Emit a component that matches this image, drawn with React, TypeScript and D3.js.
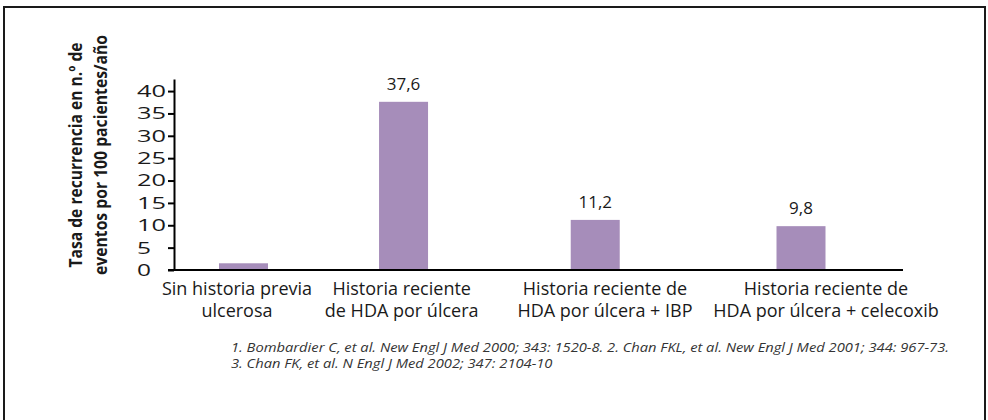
import React, { useRef, useEffect } from "react";
import * as d3 from "d3";

// Data
const categories = [0, 1, 2, 3];
const categoryLines: string[][] = [
  ["Sin historia previa", "ulcerosa"],
  ["Historia reciente", "de HDA por úlcera"],
  ["Historia reciente de", "HDA por úlcera + IBP"],
  ["Historia reciente de", "HDA por úlcera + celecoxib"],
];
const values = [1.5, 37.6, 11.2, 9.8];
const valueLabels = ["", "37,6", "11,2", "9,8"];
const yTicks = [0, 5, 10, 15, 20, 25, 30, 35, 40];
const yTitleLines = ["Tasa de recurrencia en n.º de", "eventos por 100 pacientes/año"];
const footnotes = [
  "1. Bombardier C, et al. New Engl J Med 2000; 343: 1520-8. 2. Chan FKL, et al. New Engl J Med 2001; 344: 967-73.",
  "3. Chan FK, et al. N Engl J Med 2002; 347: 2104-10",
];

const FONT = "'Open Sans', Lato, sans-serif";
const BAR_W = 49;

const App: React.FC = () => {
  const ref = useRef<SVGSVGElement | null>(null);

  useEffect(() => {
    document.body.style.margin = "0";
    const svg = d3.select(ref.current);
    svg.selectAll("*").remove();

    const W = 988;
    const H = 420;
    svg.attr("width", W).attr("height", H).attr("viewBox", `0 0 ${W} ${H}`);

    // frame
    svg
      .append("rect")
      .attr("x", 4)
      .attr("y", 7)
      .attr("width", 981)
      .attr("height", 430)
      .attr("fill", "#fff")
      .attr("stroke", "#1a1a1a")
      .attr("stroke-width", 2);

    // the original spaces its categories unevenly (gaps widen to the right),
    // so category index -> x goes through a pow scale instead of a band scale
    const xBar = d3.scalePow().exponent(1.136).domain([0, 3]).range([243.5, 801]);
    const xLabel = d3.scalePow().exponent(1.16).domain([0, 3]).range([237, 826]);

    const y = d3.scaleLinear().domain([0, 42.7]).range([270, 79]);

    const axisX0 = 174;
    const axisX1 = 903;

    // bars
    svg
      .append("g")
      .selectAll("rect")
      .data(values)
      .join("rect")
      .attr("x", (_, i) => xBar(categories[i]) - BAR_W / 2)
      .attr("y", (d) => y(d))
      .attr("width", BAR_W)
      .attr("height", (d) => y(0) - y(d))
      .attr("fill", "#a68dba");

    // value labels
    svg
      .append("g")
      .selectAll("text")
      .data(values)
      .join("text")
      .attr("x", (_, i) => xBar(categories[i]))
      .attr("y", (d) => y(d) - 12)
      .attr("text-anchor", "middle")
      .style("font-family", FONT)
      .style("font-size", "17px")
      .attr("fill", "#1a1a1a")
      .text((_, i) => valueLabels[i]);

    // y axis
    const yAxis = svg
      .append("g")
      .attr("transform", `translate(${axisX0},0)`)
      .call(
        d3
          .axisLeft(y)
          .tickValues(yTicks)
          .tickSize(6)
          .tickSizeOuter(0)
      );
    yAxis.selectAll("path").attr("stroke", "#000").attr("stroke-width", 2);
    yAxis.selectAll("line").attr("stroke", "#000").attr("stroke-width", 2);
    yAxis
      .selectAll<SVGTextElement, number>("text")
      .attr("x", 137 - axisX0)
      .attr("text-anchor", "start")
      .style("font-family", FONT)
      .style("font-size", "17px")
      .attr("fill", "#1a1a1a")
      .attr("textLength", (d) => String(d).length * 15 - 1)
      .attr("lengthAdjust", "spacingAndGlyphs");

    // x axis line
    svg
      .append("line")
      .attr("x1", axisX0 - 6)
      .attr("x2", axisX1)
      .attr("y1", y(0))
      .attr("y2", y(0))
      .attr("stroke", "#000")
      .attr("stroke-width", 2);

    // category labels
    const cat = svg
      .append("g")
      .selectAll("text")
      .data(categoryLines)
      .join("text")
      .attr("text-anchor", "middle")
      .style("font-family", FONT)
      .style("font-size", "18px")
      .attr("fill", "#1a1a1a");
    cat
      .selectAll("tspan")
      .data((d, i) => d.map((t) => ({ t, i })))
      .join("tspan")
      .attr("x", (d) => xLabel(categories[d.i]))
      .attr("y", (_, j) => 295 + j * 22)
      .text((d) => d.t);

    // y title, fitted to the reference's line lengths
    const titleLengths = [225, 240];
    svg
      .append("g")
      .attr("transform", "translate(0,155) rotate(-90)")
      .selectAll("text")
      .data(yTitleLines)
      .join("text")
      .attr("x", 0)
      .attr("y", (_, i) => 82 + i * 25)
      .attr("text-anchor", "middle")
      .style("font-family", FONT)
      .style("font-size", "17px")
      .style("font-weight", "bold")
      .attr("fill", "#1a1a1a")
      .attr("textLength", (_, i) => titleLengths[i])
      .attr("lengthAdjust", "spacingAndGlyphs")
      .text((d) => d);

    // footnotes, both lines scaled by the same factor
    const notes = svg
      .append("g")
      .selectAll<SVGTextElement, string>("text")
      .data(footnotes)
      .join("text")
      .attr("x", 231)
      .attr("y", (_, i) => 352 + i * 16)
      .style("font-family", FONT)
      .style("font-size", "12.5px")
      .style("font-style", "italic")
      .attr("fill", "#333")
      .text((d) => d);
    const natural = notes.nodes().map((n) => n.getComputedTextLength());
    const k = 718 / natural[0];
    notes
      .attr("textLength", (_, i) => natural[i] * k)
      .attr("lengthAdjust", "spacingAndGlyphs");
  }, []);

  return <svg ref={ref} style={{ display: "block" }} />;
};

export default App;
